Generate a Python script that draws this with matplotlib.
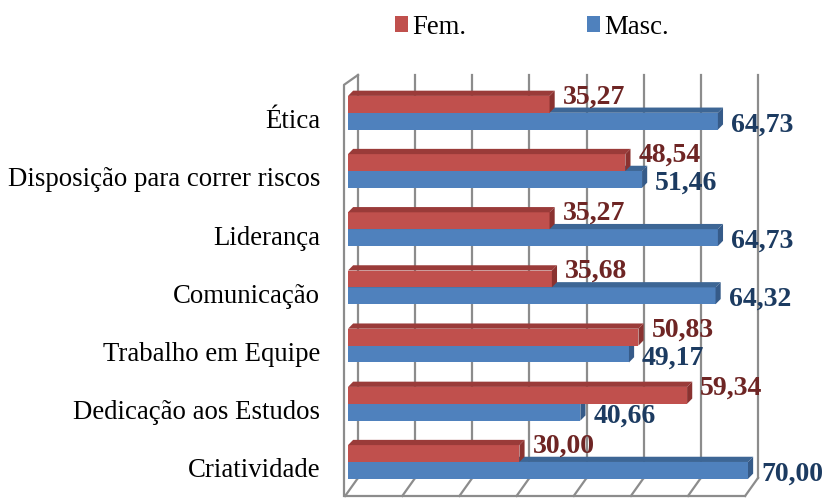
import matplotlib
matplotlib.use("Agg")
import matplotlib.pyplot as plt
from matplotlib.patches import Polygon

categories = ["Criatividade", "Dedicação aos Estudos", "Trabalho em Equipe",
              "Comunicação", "Liderança", "Disposição para correr riscos", "Ética"]
fem = [30.00, 59.34, 50.83, 35.68, 35.27, 48.54, 35.27]
masc = [70.00, 40.66, 49.17, 64.32, 64.73, 51.46, 64.73]
grid_values = [0, 10, 20, 30, 40, 50, 60, 70]

RED, RED_TOP, RED_SIDE, RED_TXT = "#C0504D", "#9A3B39", "#8A3230", "#6E2524"
BLUE, BLUE_TOP, BLUE_SIDE, BLUE_TXT = "#4F81BD", "#3D6695", "#365B89", "#1C3B61"
GRID = "#8C8C8C"

plt.rcParams["font.family"] = ["Liberation Serif", "DejaVu Serif"]

fig = plt.figure(figsize=(8.22, 4.98), dpi=100)
ax = fig.add_axes([340 / 822, 0.0, 460 / 822, 438 / 498])
ax.set_xlim(-1.4, 79.1)
ax.set_ylim(-0.619, 6.907)

h = 0.29           # bar thickness (category units)
dx, dy = 0.9, 0.09      # bar depth
bx, by = 2.25, 0.31     # wall depth
y_floor, y_top = -0.584, 6.65

# back wall / floor grid
for v in grid_values:
    ax.plot([v + bx - 0.5, v + bx - 0.5], [y_floor + by, y_top], color=GRID, lw=1.6, zorder=1)
    ax.plot([v - 0.5, v + bx - 0.5], [y_floor, y_floor + by], color=GRID, lw=1.6, zorder=1)
ax.plot([grid_values[0] - 0.5, grid_values[-1] - 0.5], [y_floor, y_floor], color=GRID, lw=1.6, zorder=1)
ax.plot([-0.7, -0.7, bx - 0.5], [y_floor, 6.48, y_top], color=GRID, lw=1.6, zorder=1)

ys = list(range(len(categories)))
blue_bars = ax.barh([y - h / 2 for y in ys], masc, height=h, color=BLUE, left=0, zorder=2)
for y, v in zip(ys, masc):
    b0, b1 = y - h, y
    ax.add_patch(Polygon([(0, b1), (v, b1), (v + dx, b1 + dy), (dx, b1 + dy)], closed=True,
                         facecolor=BLUE_TOP, edgecolor="none", zorder=2))
    ax.add_patch(Polygon([(v, b0), (v, b1), (v + dx, b1 + dy), (v + dx, b0 + dy)], closed=True,
                         facecolor=BLUE_SIDE, edgecolor="none", zorder=2))
    ax.text(v + 2.3, y - 0.32, f"{v:.2f}".replace(".", ","), color=BLUE_TXT,
            fontsize=20, fontweight="bold", va="baseline", ha="left", zorder=5)

red_bars = ax.barh([y + h / 2 for y in ys], fem, height=h, color=RED, left=0, zorder=3)
for y, v in zip(ys, fem):
    b0, b1 = y, y + h
    ax.add_patch(Polygon([(0, b1), (v, b1), (v + dx, b1 + dy), (dx, b1 + dy)], closed=True,
                         facecolor=RED_TOP, edgecolor="none", zorder=3))
    ax.add_patch(Polygon([(v, b0), (v, b1), (v + dx, b1 + dy), (v + dx, b0 + dy)], closed=True,
                         facecolor=RED_SIDE, edgecolor="none", zorder=3))
    ax.text(v + 2.3, y + 0.16, f"{v:.2f}".replace(".", ","), color=RED_TXT,
            fontsize=20, fontweight="bold", va="baseline", ha="left", zorder=5)

ax.set_yticks([y - 0.1 for y in ys])
ax.set_yticklabels(categories, fontsize=19.3)
ax.tick_params(axis="y", length=0, pad=14.4)
ax.set_xticks([])
for s in ax.spines.values():
    s.set_visible(False)
ax.patch.set_alpha(0)

fig.legend([red_bars, blue_bars], ["Fem.", "Masc."], loc="center",
           bbox_to_anchor=(532 / 822, 1 - 27 / 498), ncol=2, frameon=False,
           fontsize=19.3, handlelength=0.5, handleheight=0.5, handletextpad=0.15,
           columnspacing=4.5)

fig.savefig("out.png", dpi=100, facecolor="white")
